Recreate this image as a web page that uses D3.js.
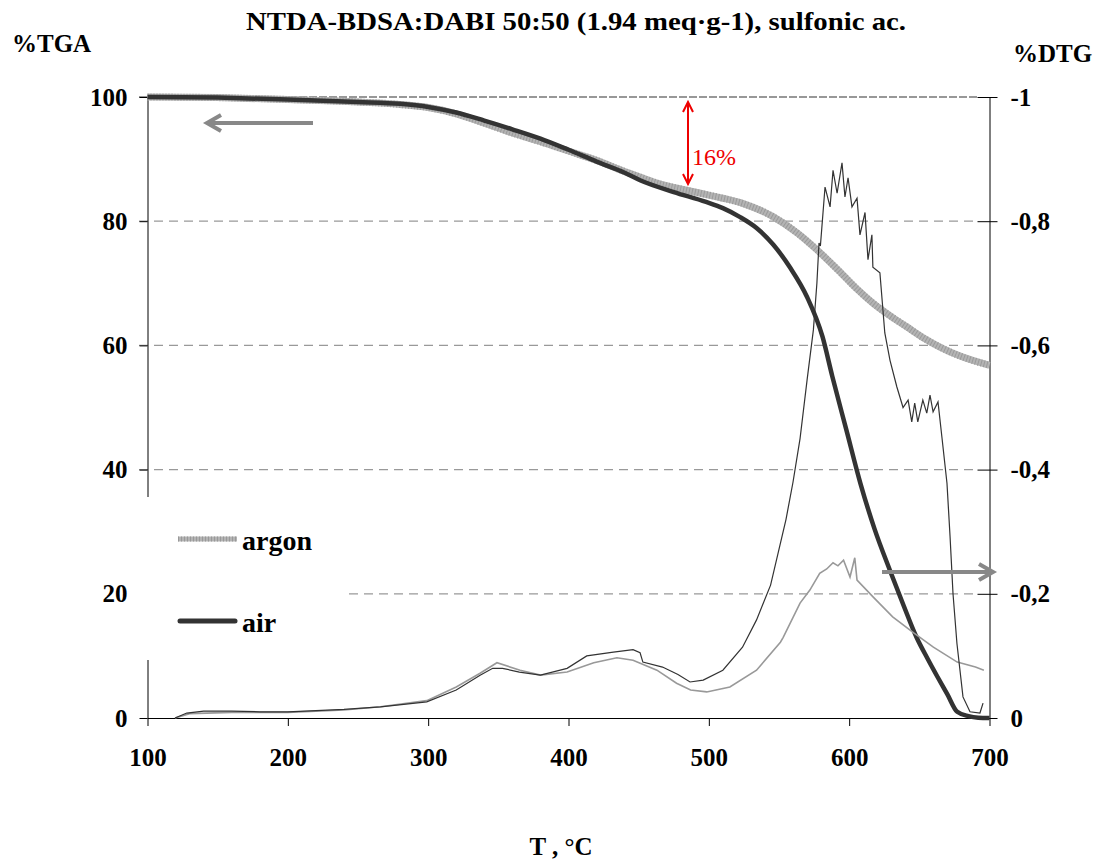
<!DOCTYPE html>
<html>
<head>
<meta charset="utf-8">
<script src="https://cdn.jsdelivr.net/npm/d3@7"></script>
<style>
  body { margin: 0; background: #fff; }
  text { font-family: "Liberation Serif", "Times New Roman", serif; }
</style>
</head>
<body>
<div id="chart"></div>
<script>
// TGA curves (%), T in degC
var tgaAirT = [100,150,200,250,280,300,320,340,360,380,400,420,440,451,475,498,510,522,534,546,558,570,581,588,598,608,618,629,639,648,656,663,670,677,685,692,700];
var tgaAirV = [100,99.9,99.6,99.2,98.9,98.4,97.5,96.2,94.8,93.3,91.5,89.6,87.8,86.6,84.7,83.1,82.1,80.7,78.9,76.2,72.5,67.8,61.4,55,46.4,37.8,30.5,23.8,18,13,9.5,6.6,3.8,1,0.3,0.05,0];

var tgaArT = [100,150,200,250,280,300,320,340,360,380,400,420,440,451,465,484,500,510,525,546,563,577,594,605,617,629,641,653,665,680,700];
var tgaArV = [100,99.9,99.6,99.2,98.8,98.3,97.3,95.8,94.2,92.8,91.3,89.8,88,87.1,86,85,84.2,83.7,82.8,80.7,78.1,75.4,71.7,69.2,66.8,64.8,63,61.2,59.7,58.2,56.8];

// DTG curves (%/degC)
var dtgAirT = [119.6,128,140,160,180,200,220,240,266,299,320,337,346,353,365,380,399,413,432,446,451,453,467,478,486.6,496,510,524,534,544,555,560,565,570,574.5,577,578.5,579.5,582.8,586.4,588.5,591.4,594.9,597,599.2,602,605.6,607.7,611.3,613.4,616.2,616.9,621.9,625.4,629.1,634,638.4,642,644.6,646.7,648.9,652.5,655.3,657.6,659.8,663.3,666.1,669.7,671.9,674,676.8,681.1,686.1,693.2,695.4];
var dtgAirV = [0,-0.008,-0.011,-0.011,-0.01,-0.01,-0.012,-0.014,-0.018,-0.026,-0.045,-0.069,-0.08,-0.08,-0.074,-0.069,-0.08,-0.1,-0.106,-0.11,-0.105,-0.09,-0.082,-0.07,-0.058,-0.061,-0.077,-0.114,-0.158,-0.214,-0.32,-0.38,-0.45,-0.544,-0.625,-0.7,-0.765,-0.76,-0.855,-0.823,-0.882,-0.845,-0.894,-0.839,-0.87,-0.823,-0.837,-0.778,-0.814,-0.738,-0.778,-0.726,-0.717,-0.62,-0.576,-0.533,-0.5,-0.512,-0.477,-0.507,-0.477,-0.512,-0.491,-0.52,-0.493,-0.509,-0.452,-0.378,-0.292,-0.2,-0.12,-0.034,-0.01,-0.008,-0.024];

var dtgArT = [119.6,130,160,200,240,266,299,320,337,349,365.5,380,399,418,434.5,446,463,477,487,498.5,515,534,551,553,565,572,579,584,588.5,592,596,600.6,604,605.6,617,631,646,660,677,690,696];
var dtgArV = [0,-0.007,-0.009,-0.009,-0.013,-0.018,-0.028,-0.05,-0.072,-0.089,-0.077,-0.069,-0.074,-0.089,-0.097,-0.093,-0.077,-0.056,-0.045,-0.042,-0.05,-0.077,-0.122,-0.13,-0.185,-0.206,-0.233,-0.24,-0.25,-0.245,-0.254,-0.227,-0.258,-0.222,-0.195,-0.163,-0.137,-0.114,-0.09,-0.082,-0.077];

var xTicks = [100,200,300,400,500,600,700];
var leftTicks = [0,20,40,60,80,100];
var rightTicks = [0,-0.2,-0.4,-0.6,-0.8,-1];

var W = 1101, H = 865;
var svg = d3.select("#chart").append("svg").attr("width", W).attr("height", H);

var x = d3.scaleLinear().domain([100,700]).range([147.5,989.5]),
    yL = d3.scaleLinear().domain([0,100]).range([718,97]),
    yR = d3.scaleLinear().domain([0,-1]).range([718,97]);

function pts(ts, vs){ return ts.map(function(t,i){ return [t, vs[i]]; }); }

// gridlines
svg.append("g").selectAll("line")
  .data([20,40,60,80])
  .enter().append("line")
  .attr("x1", 139).attr("x2", 978)
  .attr("y1", function(d){ return yL(d); }).attr("y2", function(d){ return yL(d); })
  .attr("stroke", "#999").attr("stroke-width", 1.2)
  .attr("stroke-dasharray", "9,6");
svg.append("line")
  .attr("x1", 139).attr("x2", 978).attr("y1", yL(100)).attr("y2", yL(100))
  .attr("stroke", "#777").attr("stroke-width", 1.5).attr("stroke-dasharray", "8,2");

// axes
var gL = svg.append("g").attr("transform", "translate(" + x(100) + ",0)")
  .call(d3.axisLeft(yL).tickValues(leftTicks).tickSize(8).tickPadding(12).tickSizeOuter(0));
var gR = svg.append("g").attr("transform", "translate(" + x(700) + ",0)")
  .call(d3.axisRight(yR).tickValues(rightTicks).tickSize(8).tickPadding(13).tickSizeOuter(0)
    .tickFormat(function(d){ return d === 0 ? "0" : (d === -1 ? "-1" : String(d).replace(".", ",")); }));
gR.selectAll(".tick line").attr("x1", -12);
var gX = svg.append("g").attr("transform", "translate(0," + yL(0) + ")")
  .call(d3.axisBottom(x).tickValues(xTicks).tickSize(8).tickPadding(22).tickSizeOuter(0));

[gL, gR, gX].forEach(function(g){
  g.selectAll("text").attr("font-family", "Liberation Serif").attr("font-weight", "bold")
    .attr("font-size", 25).attr("fill", "#000");
  g.selectAll("line,path").attr("stroke", "#000");
});

// legend box (white, hides grid & axis)
svg.append("rect").attr("x", 135).attr("y", 497).attr("width", 212).attr("height", 163).attr("fill", "#fff");

var lineT = d3.line().x(function(d){ return x(d[0]); }).y(function(d){ return yL(d[1]); }).curve(d3.curveMonotoneX);
var lineD = d3.line().x(function(d){ return x(d[0]); }).y(function(d){ return yR(d[1]); });

// TGA argon (textured thick grey)
svg.append("path").datum(pts(tgaArT, tgaArV)).attr("d", lineT)
  .attr("fill", "none").attr("stroke", "#b4b4b4").attr("stroke-width", 7);
svg.append("path").datum(pts(tgaArT, tgaArV)).attr("d", lineT)
  .attr("fill", "none").attr("stroke", "#9a9a9a").attr("stroke-width", 7).attr("stroke-dasharray", "1,2");
// TGA air
svg.append("path").datum(pts(tgaAirT, tgaAirV)).attr("d", lineT)
  .attr("fill", "none").attr("stroke", "#333").attr("stroke-width", 4.5);
// DTG argon
svg.append("path").datum(pts(dtgArT, dtgArV)).attr("d", lineD)
  .attr("fill", "none").attr("stroke", "#999").attr("stroke-width", 1.6);
// DTG air
svg.append("path").datum(pts(dtgAirT, dtgAirV)).attr("d", lineD)
  .attr("fill", "none").attr("stroke", "#333").attr("stroke-width", 1.2);

// legend
svg.append("line").attr("x1", 178).attr("x2", 237).attr("y1", 539).attr("y2", 539)
  .attr("stroke", "#b4b4b4").attr("stroke-width", 5);
svg.append("line").attr("x1", 178).attr("x2", 237).attr("y1", 539).attr("y2", 539)
  .attr("stroke", "#999").attr("stroke-width", 5).attr("stroke-dasharray", "1,2");
svg.append("line").attr("x1", 180).attr("x2", 235).attr("y1", 621).attr("y2", 621)
  .attr("stroke", "#333").attr("stroke-width", 5).attr("stroke-linecap", "round");
svg.append("text").attr("x", 242).attr("y", 550).attr("font-size", 28).attr("font-weight", "bold").text("argon");
svg.append("text").attr("x", 242).attr("y", 632).attr("font-size", 28).attr("font-weight", "bold").text("air");

// direction arrows
function arrow(x1, x2, y, dir){
  var g = svg.append("g").attr("stroke", "#888").attr("stroke-width", 4).attr("fill", "none");
  g.append("line").attr("x1", x1).attr("x2", x2).attr("y1", y).attr("y2", y);
  g.append("polyline").attr("points", (x2 + dir*14) + "," + (y-8) + " " + x2 + "," + y + " " + (x2 + dir*14) + "," + (y+8));
}
arrow(313, 207, 123, 1);
arrow(882, 993, 572, -1);

// 16% annotation
var red = svg.append("g").attr("stroke", "#e00").attr("stroke-width", 2).attr("fill", "none");
red.append("line").attr("x1", 688).attr("x2", 688).attr("y1", 103).attr("y2", 183);
red.append("polyline").attr("points", "683,112 688,102 693,112");
red.append("polyline").attr("points", "683,174 688,184 693,174");
svg.append("text").attr("x", 692).attr("y", 165).attr("font-size", 24).attr("fill", "#e00").text("16%");

// titles
svg.append("text").attr("x", 576).attr("y", 30).attr("text-anchor", "middle")
  .attr("font-size", 25).attr("font-weight", "bold")
  .attr("textLength", 660).attr("lengthAdjust", "spacingAndGlyphs")
  .text("NTDA-BDSA:DABI 50:50 (1.94 meq\u00b7g-1), sulfonic ac.");
svg.append("text").attr("x", 12).attr("y", 52).attr("font-size", 25).attr("font-weight", "bold").text("%TGA");
svg.append("text").attr("x", 1013).attr("y", 62).attr("font-size", 25).attr("font-weight", "bold").text("%DTG");
svg.append("text").attr("x", 561).attr("y", 855).attr("text-anchor", "middle").attr("font-size", 25).attr("font-weight", "bold").text("T , \u00b0C");
</script>
</body>
</html>
